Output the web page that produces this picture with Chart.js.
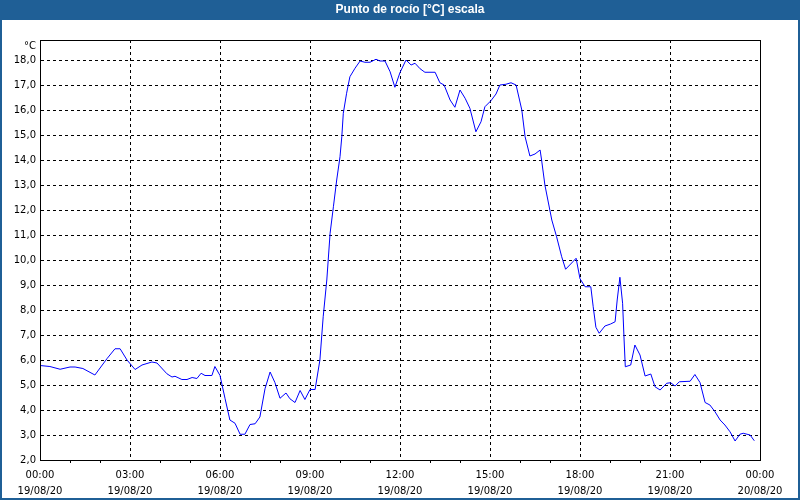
<!DOCTYPE html>
<html>
<head>
<meta charset="utf-8">
<script src="https://cdn.jsdelivr.net/npm/chart.js@4/dist/chart.umd.min.js"></script>
<style>
    body { margin: 0; background: #fff; }
    canvas { display: block; }
</style>
</head>
<body>
<canvas id="chartRocio" width="800" height="500"></canvas>
<script>
// ===== DATOS =====
const titulo = 'Punto de rocío [°C] escala'
const unidad = '°C'
// hora del día (0 = 19/08/20 00:00)
const horas = [0, 0.33, 0.67, 1, 1.17, 1.43, 1.83, 2.23, 2.5, 2.67, 2.9, 3.17, 3.4, 3.73, 3.9,
    4.23, 4.4, 4.5, 4.73, 4.9, 5.07, 5.23, 5.37, 5.5, 5.73, 5.83, 6, 6.17, 6.33, 6.5, 6.67, 6.83,
    7, 7.17, 7.33, 7.5, 7.67, 7.83, 8, 8.2, 8.33, 8.5, 8.67, 8.83, 9, 9.17, 9.33, 9.44, 9.56,
    9.67, 9.78, 9.89, 10, 10.06, 10.11, 10.22, 10.33, 10.5, 10.67, 10.83, 11, 11.2, 11.33, 11.5,
    11.67, 11.83, 12, 12.2, 12.37, 12.5, 12.67, 12.83, 13.17, 13.33, 13.47, 13.67, 13.83, 14,
    14.17, 14.33, 14.53, 14.7, 14.83, 15.03, 15.2, 15.33, 15.53, 15.7, 15.87, 16.06, 16.17,
    16.33, 16.5, 16.67, 16.72, 16.83, 17.06, 17.22, 17.39, 17.52, 17.69, 17.87, 18, 18.17,
    18.36, 18.44, 18.53, 18.64, 18.83, 19.02, 19.17, 19.24, 19.33, 19.42, 19.47, 19.51, 19.69,
    19.83, 20, 20.17, 20.36, 20.5, 20.67, 20.89, 21.02, 21.17, 21.31, 21.67, 21.83, 22, 22.17,
    22.33, 22.5, 22.67, 22.83, 23, 23.17, 23.33, 23.44, 23.67, 23.81]
const valores = [5.78, 5.74, 5.63, 5.72, 5.72, 5.66, 5.4, 6.05, 6.45, 6.45, 6.0, 5.62, 5.8, 5.92, 5.88,
    5.45, 5.32, 5.35, 5.22, 5.22, 5.3, 5.26, 5.47, 5.38, 5.38, 5.74, 5.38, 4.45, 3.6, 3.47, 3.03, 3.03,
    3.42, 3.45, 3.72, 4.85, 5.52, 5.1, 4.47, 4.68, 4.45, 4.3, 4.78, 4.42, 4.82, 4.82, 6.0, 7.73, 9.2,
    11.07, 12.13, 13.2, 14.13, 14.93, 15.87, 16.67, 17.33, 17.67, 17.96, 17.91, 17.91, 18.03, 17.96, 17.96,
    17.53, 16.91, 17.5, 18.0, 17.8, 17.87, 17.65, 17.51, 17.51, 17.09, 17.0, 16.4, 16.11, 16.8,
    16.47, 16.07, 15.13, 15.53, 16.13, 16.37, 16.64, 17.0, 17.03, 17.09, 17.0, 16.0, 14.93,
    14.16, 14.24, 14.4, 14.0, 13.0, 11.6, 10.93, 10.13, 9.63, 9.84, 10.07, 9.25, 8.93,
    8.93, 8.13, 7.31, 7.07, 7.36, 7.44, 7.53, 8.4, 9.31, 8.27, 6.8, 5.73, 5.8,
    6.6, 6.2, 5.36, 5.44, 4.93, 4.8, 5.07, 5.09, 4.96, 5.13, 5.15, 5.42, 5.1, 4.3,
    4.2, 3.93, 3.6, 3.4, 3.13, 2.76, 3.03, 3.07, 3.0, 2.77]
const etiquetasHora = ['00:00', '03:00', '06:00', '09:00', '12:00', '15:00', '18:00', '21:00', '00:00']
const etiquetasFecha = ['19/08/20', '19/08/20', '19/08/20', '19/08/20', '19/08/20', '19/08/20', '19/08/20', '19/08/20', '20/08/20']

const azulBarra = '#1f5f96'
const azulLinea = '#0000ff'
const fuente = { family: 'DejaVu Sans', size: 10 }

// ===== MARCO, BARRA DE TITULO Y UNIDAD =====
const marco = {
    id: 'marco',
    beforeDraw(chart) {
        const c = chart.ctx
        c.save()
        c.fillStyle = '#fff'
        c.fillRect(0, 0, chart.width, chart.height)
        c.restore()
    },
    afterDraw(chart) {
        const c = chart.ctx
        const a = chart.chartArea
        c.save()
        // cuadro del grafico
        c.strokeStyle = '#000'
        c.lineWidth = 1
        c.strokeRect(Math.round(a.left) + 0.5, Math.round(a.top) + 0.5, Math.round(a.right - a.left), Math.round(a.bottom - a.top))
        // barra de titulo
        c.fillStyle = azulBarra
        c.fillRect(0, 0, chart.width, 20)
        c.fillRect(0, 0, 2, chart.height)
        c.fillRect(chart.width - 2, 0, 2, chart.height)
        c.fillRect(0, chart.height - 2, chart.width, 2)
        c.fillStyle = '#fff'
        c.font = 'bold 12px "Liberation Sans"'
        c.textAlign = 'center'
        c.textBaseline = 'middle'
        c.fillText(titulo, 410, 10)
        // unidad arriba del eje
        c.fillStyle = '#000'
        c.font = '10px "DejaVu Sans"'
        c.textAlign = 'right'
        c.fillText(unidad, a.left - 4, a.top + 6)
        c.restore()
    }
}

// ===== GRAFICO =====
const ctxRocio = document.getElementById('chartRocio')
new Chart(ctxRocio, {
    type: 'line',
    data: {
        datasets: [{
            label: titulo,
            data: horas.map((h, i) => ({ x: h, y: valores[i] })),
            borderColor: azulLinea,
            borderWidth: 1,
            pointRadius: 0,
            tension: 0,
            fill: false
        }]
    },
    options: {
        responsive: false,
        animation: false,
        devicePixelRatio: 1,
        layout: { padding: { top: 40, right: 40, left: 0, bottom: 0 } },
        plugins: { legend: { display: false }, tooltip: { enabled: false } },
        scales: {
            x: {
                type: 'linear',
                min: 0,
                max: 24,
                afterFit: s => { s.height = 40 },
                afterBuildTicks: s => { s.ticks = Array.from({ length: 25 }, (_, i) => ({ value: i })) },
                grid: {
                    color: ctx => ctx.tick && ctx.tick.value % 3 === 0 ? '#000' : 'rgba(0,0,0,0)',
                    tickColor: ctx => ctx.tick && ctx.tick.value % 3 === 0 ? 'rgba(0,0,0,0)' : '#000',
                    tickLength: 3,
                    lineWidth: 1
                },
                border: { display: true, color: '#000', width: 1, dash: [3, 3] },
                ticks: {
                    autoSkip: false,
                    maxRotation: 0,
                    padding: 5,
                    color: '#000',
                    font: { family: 'DejaVu Sans', size: 10, lineHeight: 1.55 },
                    callback: v => v % 3 === 0 ? [etiquetasHora[v / 3], etiquetasFecha[v / 3]] : ''
                }
            },
            y: {
                min: 2,
                max: 18.8,
                afterFit: s => { s.width = 40 },
                grid: { color: '#000', lineWidth: 1, drawTicks: false },
                border: { display: true, color: '#000', width: 1, dash: [3, 3] },
                ticks: {
                    stepSize: 1,
                    includeBounds: false,
                    padding: 4,
                    color: '#000',
                    font: fuente,
                    callback: v => v.toFixed(1).replace('.', ',')
                }
            }
        }
    },
    plugins: [marco]
})
</script>
</body>
</html>
